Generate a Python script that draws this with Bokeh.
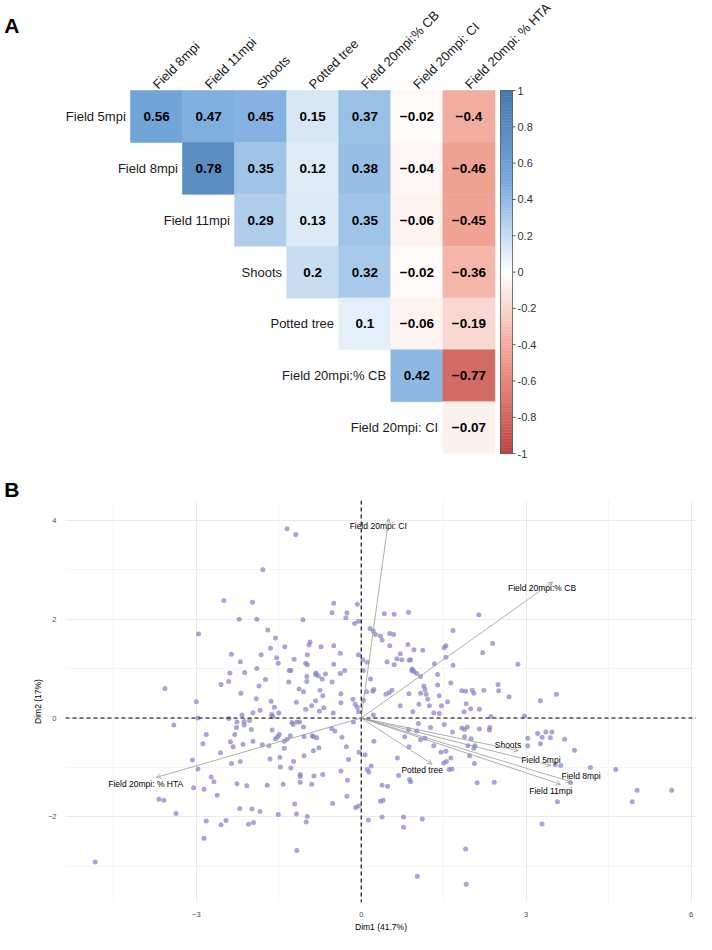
import math
from bokeh.plotting import figure
from bokeh.layouts import column
from bokeh.models import Range1d, ColumnDataSource, Arrow, OpenHead, Span, FixedTicker
from bokeh.core.properties import value
from bokeh.embed import file_html
from bokeh.resources import INLINE

FONT = "Liberation Sans"

# ---------------- Panel A data ----------------
col_labels = ["Field 8mpi", "Field 11mpi", "Shoots", "Potted tree",
              "Field 20mpi:% CB", "Field 20mpi: CI", "Field 20mpi: % HTA"]
row_labels = ["Field 5mpi", "Field 8mpi", "Field 11mpi", "Shoots",
              "Potted tree", "Field 20mpi:% CB", "Field 20mpi: CI"]
corr_rows = [
    [0.56, 0.47, 0.45, 0.15, 0.37, -0.02, -0.4],
    [0.78, 0.35, 0.12, 0.38, -0.04, -0.46],
    [0.29, 0.13, 0.35, -0.06, -0.45],
    [0.2, 0.32, -0.02, -0.36],
    [0.1, -0.06, -0.19],
    [0.42, -0.77],
    [-0.07],
]
cb_ticks = [1, 0.8, 0.6, 0.4, 0.2, 0, -0.2, -0.4, -0.6, -0.8, -1]
pal_vals = [-1.0, -0.5, 0.0, 0.5, 1.0]
pal_cols = ["#BB4444", "#EE9988", "#FFFFFF", "#77AADD", "#4477AA"]
panel_tags = ["A", "B"]

# ---------------- Panel B data ----------------
dim1 = [
    -2.96, -3.57,
    -1.35, -1.19, -1.79, -2.50, -1.98, -0.50, -0.07, -0.53, -0.26, -2.22, -1.90, -1.06, -0.28, -0.05,
    -0.12, -1.70, -1.56, -0.93, -0.95, -1.39, -0.73, -0.50, -1.65, -2.36, -1.82, -0.98, -0.38, -0.05,
    -1.54, 0.03, -2.20, -1.22, -1.51, -1.01, -0.98, -0.50, -1.90, -1.31, -1.28, -0.30, 0.04, -2.39,
    -2.12, -0.82, -0.38, -0.83, -0.65, -0.99, -0.78, -2.41, -1.74, -0.71, -2.55, -1.32, -0.99, -0.53,
    -1.86, -1.13, -2.19, -1.05, -0.75, -0.37,
    0.42, 0.60, 0.86, 2.14, 0.16, 0.22, 0.26, 0.35, 0.38, 0.52, 0.59, 1.67, 0.85, 0.52, 2.39, 1.54,
    1.51, 0.96, 1.12, 0.71, 0.65, 2.21, 0.47, 0.74, 0.87, 0.90, 0.60, 1.54, 1.33, 1.67, 2.85, 0.93,
    0.96, 1.01, 0.92, 1.08, 1.39, 0.11, 0.17, 1.63, 1.39, 1.14, 2.49, 1.16, 1.83, 1.90, 2.02, 2.23,
    2.50, 2.05, 0.23, 0.21, 0.10, 0.56, 0.51, 0.45, 0.87, 1.08, 1.18,
    3.55,
    -3.00, -2.97, -3.41, -2.82, -2.88, -3.07, -2.97, -2.73, -3.05, -2.86, -3.68, -3.59, -3.37, -2.82,
    -2.86, -4.84,
    -1.91, -1.64, -0.70, -0.15, -1.18, -0.83, -1.58, -0.90, -1.01, -0.68, -2.17, -1.97, -1.84, -1.63,
    -1.50, -1.61, -0.76, -0.51, -0.37, -0.11, -0.07, -0.05, 0.04, -2.41, -2.26, -2.13, -2.03, -2.13,
    -2.27, -1.26, -1.24, -1.17, -1.12, -2.00, -1.62, -1.05, -0.54, -0.48, -0.14, -2.30, -1.97, -2.15,
    -1.49, -1.52, -1.56, -1.35, -1.40, -1.29, -1.04, -0.89, -0.87, -0.81, -0.35, -2.38, -2.33, -1.80,
    -1.68, -1.40, -0.77, -0.87, -0.27, -2.56, -0.04, 0.07, -1.04, -1.66, -1.48, -1.23, -2.20, -2.36,
    -1.47, -1.28, -0.37, -0.23, 0.11, 0.14, -1.11, -1.11, -0.86, -0.70, -2.68, -2.26, -2.08, -1.71,
    -1.42, -1.11, -0.90, -0.25, -2.62, -0.26, -1.21, -0.52, -2.21, -1.99, -1.84, -0.10, -0.05, -1.51,
    -1.18, -0.98, -1.00, -2.46, -2.55, -2.05, -1.96, 0.13, -1.17,
    0.71, 0.94, 1.05, 1.21, 1.24, 1.32, 1.42, 1.46, 1.42, 1.57, 1.91, 1.87, 1.99, 2.15, 2.36, 2.69,
    2.97, 0.22, 1.04, 1.51, 1.26, 1.66, 1.83, 1.93, 1.88, 2.15, 2.34, 2.33, 0.86, 1.01, 0.79, 1.08,
    1.16, 1.88, 2.00, 1.94, 2.05, 2.07, 0.87, 1.32, 0.23, 1.54, 1.45, 1.97, 1.63, 1.55, 1.50, 2.06,
    0.66, 0.18, 1.60, 1.65, 0.68, 0.88, 0.90, 2.11, 2.42, 0.38, 0.48, 0.35, 0.40, 0.38, 0.77, 1.11,
    0.77, 1.90, 1.02, 1.91,
    3.26, 3.03, 3.03, 3.21, 3.29, 3.36, 3.47, 3.44, 3.70, 3.26, 3.88, 3.53, 3.63, 4.17, 4.63, 3.81,
    5.02, 5.65, 3.57, 4.93, 3.29,
]
dim2 = [
    1.70, 0.60,
    3.83, 3.71, 3.00, 2.38, 2.34, 2.32, 2.30, 2.13, 2.13, 2.00, 2.00, 1.99, 2.03, 1.96,
    1.91, 1.78, 1.62, 1.54, 1.48, 1.44, 1.44, 1.46, 1.41, 1.29, 1.28, 1.28, 1.31, 1.28,
    1.22, 1.18, 1.14, 1.19, 1.11, 1.11, 1.08, 1.09, 1.00, 0.96, 0.96, 0.96, 0.96, 0.91,
    0.92, 0.91, 0.90, 0.88, 0.89, 0.84, 0.85, 0.74, 0.78, 0.79, 0.68, 0.73, 0.74, 0.73,
    0.65, 0.59, 0.50, 0.53, 0.56, 0.49,
    2.11, 2.10, 2.14, 2.09, 1.81, 1.76, 1.69, 1.66, 1.58, 1.71, 1.69, 1.77, 1.49, 1.46, 1.51, 1.46,
    1.42, 1.38, 1.37, 1.30, 1.20, 1.32, 1.14, 1.18, 1.17, 1.18, 1.08, 1.23, 1.10, 1.07, 1.09, 0.99,
    0.94, 0.90, 0.96, 0.84, 0.88, 1.13, 0.79, 0.71, 0.67, 0.65, 0.68, 0.58, 0.55, 0.54, 0.56, 0.56,
    0.55, 0.50, 0.58, 0.54, 0.53, 0.56, 0.51, 0.48, 0.49, 0.50, 0.48,
    0.48,
    0.33, 0.00, -0.14, -0.33, -0.52, -0.85, -1.03, -1.19, -1.41, -1.44, -1.64, -1.66, -1.93, -2.08,
    -2.43, -2.91,
    0.39, 0.34, 0.45, 0.38, 0.32, 0.35, 0.22, 0.25, 0.18, 0.21, 0.06, 0.11, 0.16, 0.07,
    0.10, 0.03, 0.14, 0.10, 0.31, 0.28, 0.22, 0.13, 0.36, -0.01, -0.08, -0.07, -0.05, -0.14,
    -0.19, -0.09, -0.13, -0.08, -0.08, -0.23, -0.24, -0.18, -0.21, -0.26, -0.08, -0.33, -0.47, -0.53,
    -0.33, -0.38, -0.42, -0.43, -0.47, -0.36, -0.38, -0.36, -0.38, -0.40, -0.39, -0.48, -0.58, -0.54,
    -0.56, -0.61, -0.60, -0.66, -0.58, -0.70, -0.69, -0.74, -0.76, -0.83, -0.79, -0.88, -0.88, -0.92,
    -0.99, -1.01, -1.07, -0.84, -1.04, -1.09, -1.14, -1.18, -1.17, -1.14, -1.29, -1.33, -1.37, -1.36,
    -1.34, -1.30, -1.34, -1.26, -1.56, -1.58, -1.74, -1.73, -1.83, -1.84, -1.89, -1.81, -1.78, -1.95,
    -1.94, -1.99, -2.10, -2.07, -2.16, -2.15, -2.11, -2.06, -2.68,
    0.25, 0.13, 0.28, 0.38, 0.25, 0.11, 0.09, 0.25, 0.45, 0.33, 0.29, 0.13, 0.19, 0.18, 0.03, 0.43,
    0.04, 0.06, -0.11, -0.13, -0.19, -0.28, -0.20, -0.18, -0.23, -0.22, -0.19, -0.24, -0.23, -0.26, -0.38, -0.44,
    -0.41, -0.38, -0.42, -0.56, -0.61, -0.56, -0.58, -0.56, -0.47, -0.67, -0.69, -0.76, -0.81, -0.88, -0.91, -0.92,
    -0.81, -0.97, -1.04, -1.03, -1.16, -1.24, -1.29, -1.31, -1.30, -1.36, -1.38, -1.68, -1.66, -2.00, -2.00, -2.04,
    -2.21, -2.65, -3.20, -3.36,
    0.35, -0.41, -0.56, -0.31, -0.39, -0.28, -0.28, -0.40, -0.43, -0.52, -0.65, -0.94, -0.96, -1.00, -1.04, -1.31,
    -1.46, -1.46, -1.69, -1.69, -2.14,
]
var_names = ["Field 20mpi: CI", "Field 20mpi:% CB", "Field 20mpi: % HTA", "Potted tree",
             "Shoots", "Field 5mpi", "Field 8mpi", "Field 11mpi"]
load1 = [0.50, 3.48, -3.73, 1.29, 2.86, 3.45, 3.82, 3.63]
load2 = [4.03, 2.75, -1.20, -0.93, -0.66, -0.96, -1.29, -1.34]
lab1 = [0.31, 3.29, -3.92, 1.11, 2.67, 3.27, 4.00, 3.45]
lab2 = [3.88, 2.63, -1.33, -1.05, -0.54, -0.84, -1.18, -1.48]
x_ticks = [-3, 0, 3, 6]
y_ticks = [-2, 0, 2, 4]


def hex2rgb(h):
    h = h.lstrip("#")
    return tuple(int(h[i:i + 2], 16) for i in (0, 2, 4))


def interp(v):
    v = max(-1.0, min(1.0, v))
    for i in range(len(pal_vals) - 1):
        a, b = pal_vals[i], pal_vals[i + 1]
        if a <= v <= b:
            t = (v - a) / (b - a)
            c0, c1 = hex2rgb(pal_cols[i]), hex2rgb(pal_cols[i + 1])
            c = [round(c0[k] + (c1[k] - c0[k]) * t) for k in range(3)]
            return "#%02x%02x%02x" % tuple(c)
    return pal_cols[-1]


def fmt(v):
    return ("%g" % v).replace("-", "\u2212")


LEFT = 65  # common left border of both panels (frames are aligned by the column)

# ---------------- Panel A figure ----------------
p1 = figure(width=696, height=500, x_range=Range1d(-1.748, 10.371), y_range=Range1d(-7.405, 2.237),
            output_backend="svg", toolbar_location=None, x_axis_location=None, y_axis_location="left",
            min_border=0, min_border_left=LEFT, outline_line_color=None)
p1.grid.visible = False

# panel tags "A" / "B" drawn as tick labels of the left border axis
tag_pos = [1.755, -7.25]
p1.yaxis.ticker = FixedTicker(ticks=tag_pos, minor_ticks=[])
p1.yaxis.major_label_overrides = {tag_pos[0]: panel_tags[0], tag_pos[1]: panel_tags[1]}
p1.yaxis.axis_line_color = None
p1.yaxis.major_tick_line_color = None
p1.yaxis.minor_tick_line_color = None
p1.yaxis.major_tick_out = 0
p1.yaxis.major_label_standoff = 46
p1.yaxis.major_label_text_font = FONT
p1.yaxis.major_label_text_font_style = "bold"
p1.yaxis.major_label_text_font_size = "21px"
p1.yaxis.major_label_text_color = "black"

cx, cy, cc, ct = [], [], [], []
for r, vals in enumerate(corr_rows):
    for j, v in enumerate(vals):
        c = r + j
        cx.append(c)
        cy.append(-r)
        cc.append(interp(v))
        ct.append(fmt(v))
src = ColumnDataSource(dict(x=cx, y=cy, color=cc, text=ct))
p1.rect(x="x", y="y", width=1, height=1, fill_color="color", line_color="color", line_width=0.6, source=src)
p1.text(x="x", y="y", text="text", source=src, text_align="center", text_baseline="middle",
        text_font=value(FONT), text_font_style="bold", text_font_size="13.5px", text_color="black")

p1.text(x=[r - 0.59 for r in range(len(row_labels))], y=[-r for r in range(len(row_labels))],
        text=row_labels, text_align="right", text_baseline="middle",
        text_font=value(FONT), text_font_size="13px", text_color="#1a1a1a")
p1.text(x=[c - 0.03 for c in range(len(col_labels))], y=[0.578] * len(col_labels),
        text=col_labels, angle=math.pi / 4, text_align="left", text_baseline="alphabetic",
        text_font=value(FONT), text_font_size="13px", text_color="#1a1a1a")

# colour bar
n = 120
cb_x = 6.722
cb_w = 0.23
seg_v = [-1 + (i + 0.5) * 2.0 / n for i in range(n)]
p1.rect(x=[cb_x] * n, y=[-3 + 3.5 * v for v in seg_v], width=cb_w, height=7.0 / n,
        fill_color=[interp(v) for v in seg_v], line_color=[interp(v) for v in seg_v], line_width=0.5)
p1.rect(x=[cb_x], y=[-3], width=cb_w, height=7, fill_color=None, line_color="#555555", line_width=0.8)
p1.segment(x0=[cb_x + cb_w / 2] * len(cb_ticks), y0=[-3 + 3.5 * t for t in cb_ticks],
           x1=[cb_x + cb_w / 2 + 0.06] * len(cb_ticks), y1=[-3 + 3.5 * t for t in cb_ticks],
           line_color="#333333", line_width=0.8)
p1.text(x=[6.933] * len(cb_ticks), y=[-3 + 3.5 * t for t in cb_ticks], text=["%g" % t for t in cb_ticks],
        text_align="left", text_baseline="middle", text_font=value(FONT), text_font_size="11px",
        text_color="#333333")

# ---------------- Panel B figure ----------------
p2 = figure(width=696, height=434, x_range=Range1d(-5.38, 6.10), y_range=Range1d(-3.73, 4.40),
            output_backend="svg", toolbar_location=None, min_border_left=LEFT, min_border_right=0,
            min_border_top=0, min_border_bottom=24, outline_line_color=None)

xt = FixedTicker(ticks=x_ticks, minor_ticks=[-4.5, -1.5, 1.5, 4.5])
yt = FixedTicker(ticks=y_ticks, minor_ticks=[-3, -1, 1, 3])
p2.xaxis.ticker = xt
p2.yaxis.ticker = yt
p2.xgrid.ticker = xt
p2.ygrid.ticker = yt
for g in (p2.xgrid, p2.ygrid):
    g.grid_line_color = "#e9e9e9"
    g.grid_line_width = 0.9
    g.minor_grid_line_color = "#eeeeee"
    g.minor_grid_line_width = 0.6

p2.axis.axis_line_color = None
p2.axis.major_tick_line_color = None
p2.axis.minor_tick_line_color = None
p2.axis.major_label_text_font = FONT
p2.axis.major_label_text_font_size = "7.5px"
p2.axis.major_label_text_color = "#4d4d4d"
p2.axis.major_label_standoff = 3
p2.xaxis.axis_label = "Dim1 (41.7%)"
p2.yaxis.axis_label = "Dim2 (17%)"
p2.axis.axis_label_text_font = FONT
p2.axis.axis_label_text_font_size = "8.5px"
p2.axis.axis_label_text_font_style = "normal"
p2.axis.axis_label_text_color = "black"
p2.axis.axis_label_standoff = 2

p2.scatter(dim1, dim2, size=5, fill_color="#8080c8", fill_alpha=0.7, line_color=None)

p2.add_layout(Span(location=0, dimension="height", line_color="black", line_dash="4 3", line_width=1.1))
p2.add_layout(Span(location=0, dimension="width", line_color="black", line_dash="4 3", line_width=1.1))

asrc = ColumnDataSource(dict(x0=[0.0] * len(load1), y0=[0.0] * len(load1), x1=load1, y1=load2))
p2.add_layout(Arrow(end=OpenHead(size=5, line_color="#9a9a9a", line_width=0.8),
                    x_start="x0", y_start="y0", x_end="x1", y_end="y1", source=asrc,
                    line_color="#9a9a9a", line_width=0.8))
p2.text(x=lab1, y=lab2, text=var_names, text_align="center", text_baseline="middle",
        text_font=value(FONT), text_font_size="8.5px", text_color="black")

layout = column(p1, p2)
open("out.html", "w").write(file_html(layout, INLINE))
